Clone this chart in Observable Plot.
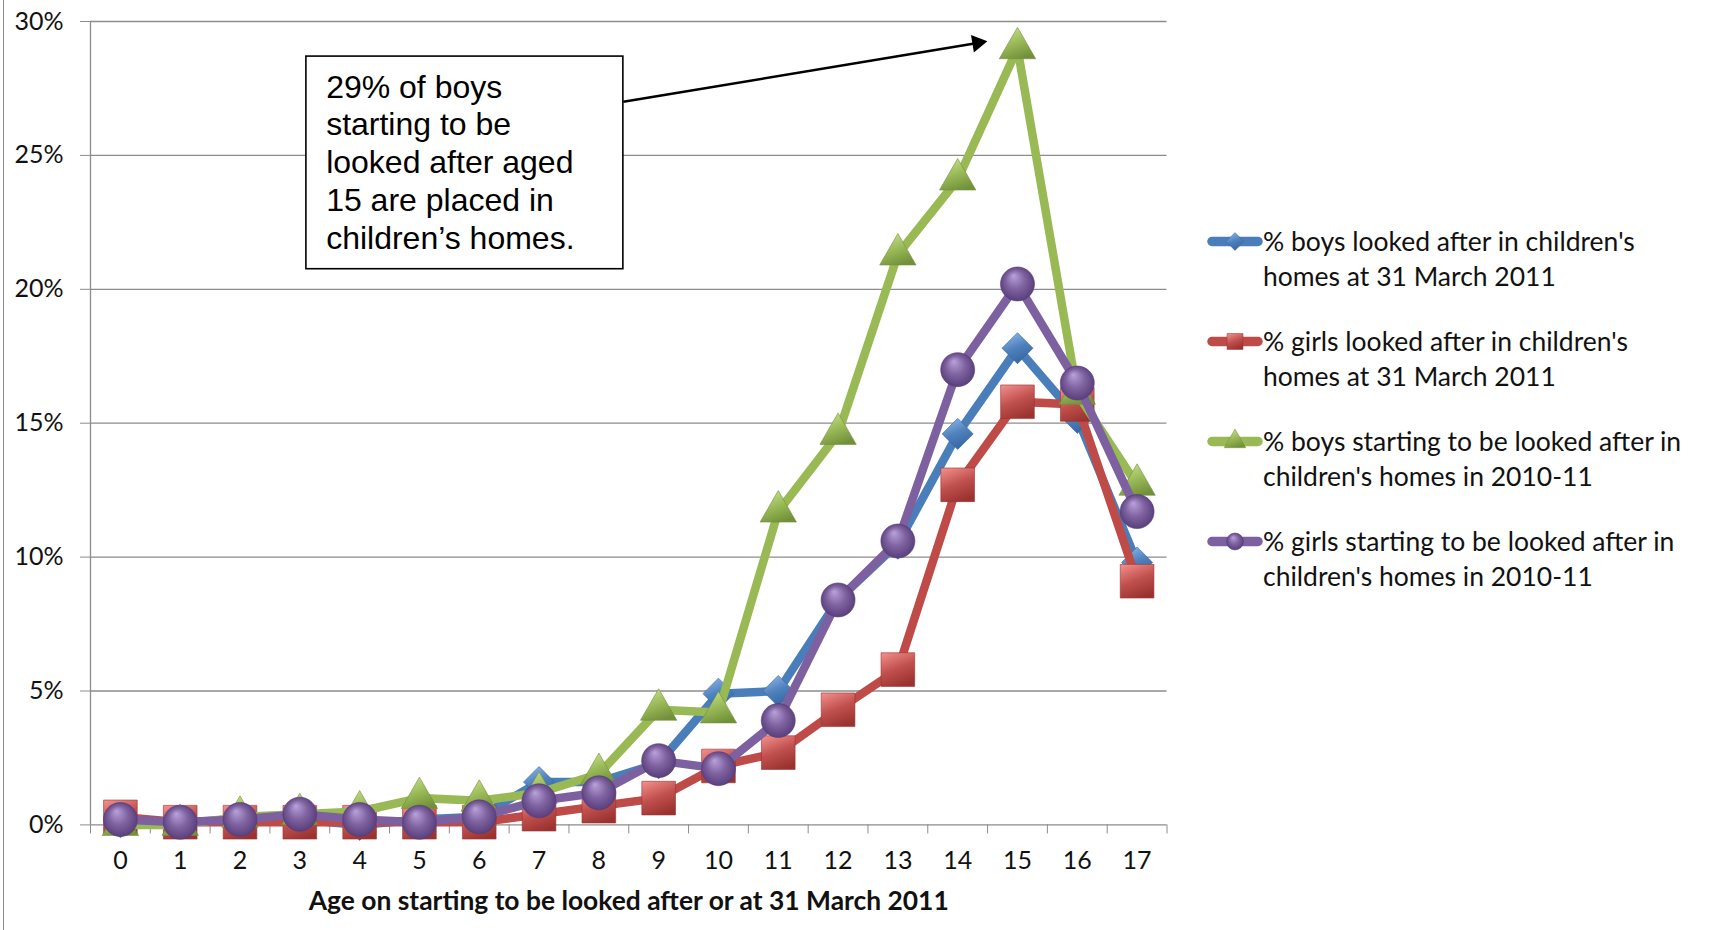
<!DOCTYPE html>
<html>
<head>
<meta charset="utf-8">
<script src="https://cdn.jsdelivr.net/npm/d3@7"></script>
<script src="https://cdn.jsdelivr.net/npm/@observablehq/plot@0.6"></script>
<style>
  html, body { margin: 0; padding: 0; background: #fff; }
  #wrap { position: relative; width: 1719px; height: 930px; overflow: hidden; font-family: Lato, "Noto Sans", sans-serif; }
  #frame { position: absolute; left: 3px; top: 0; height: 930px; border-left: 1.5px solid #8a8a8a; }
  #chart { position: absolute; left: 0; top: 0; }
  #legend { position: absolute; left: 1207px; top: 224px; }
  .item { display: flex; align-items: flex-start; height: 100px; }
  .item svg { flex: none; }
  .lab { font-size: 26.5px; line-height: 35px; color: #111; white-space: nowrap; }
</style>
</head>
<body>
<div id="wrap">
  <div id="frame"></div>
  <div id="chart"></div>
  <div id="legend"></div>
</div>
<script>
// ---- data ----
const ages = [0, 1, 2, 3, 4, 5, 6, 7, 8, 9, 10, 11, 12, 13, 14, 15, 16, 17];
const boysLookedAfter  = [0.1, 0.1, 0.2, 0.2, 0.0, 0.2, 0.3, 1.6, 1.6, 2.3, 4.9, 5.0, 8.4, 10.5, 14.6, 17.8, 15.2, 9.8];
const girlsLookedAfter = [0.3, 0.1, 0.1, 0.1, 0.1, 0.1, 0.1, 0.4, 0.7, 1.0, 2.2, 2.7, 4.3, 5.8, 12.7, 15.8, 15.7, 9.1];
const boysStarting     = [0.0, 0.0, 0.3, 0.4, 0.5, 1.0, 0.9, 1.2, 1.9, 4.3, 4.2, 11.7, 14.6, 21.3, 24.1, 29.0, 16.1, 12.7];
const girlsStarting    = [0.2, 0.1, 0.2, 0.4, 0.2, 0.1, 0.3, 0.9, 1.2, 2.4, 2.1, 3.9, 8.4, 10.6, 17.0, 20.2, 16.5, 11.7];
const seriesNames = [
  "% boys looked after in children's homes at 31 March 2011",
  "% girls looked after in children's homes at 31 March 2011",
  "% boys starting to be looked after in children's homes in 2010-11",
  "% girls starting to be looked after in children's homes in 2010-11"
];
const legendLines = [
  ["% boys looked after in children's", "homes at 31 March 2011"],
  ["% girls looked after in children's", "homes at 31 March 2011"],
  ["% boys starting to be looked after in", "children's homes in 2010-11"],
  ["% girls starting to be looked after in", "children's homes in 2010-11"]
];
const yTicks = [0, 5, 10, 15, 20, 25, 30];
const xTitle = "Age on starting to be looked after or at 31 March 2011";
const noteText = "29% of boys\nstarting to be\nlooked after aged\n15 are placed in\nchildren’s homes.";
// annotation anchor points in data units (age, %)
const noteBox = {x1: 3.11, x2: 8.41, y1: 20.75, y2: 28.69, tx: 3.44, ty: 24.79};
const noteArrow = {x1: 8.41, y1: 27.0, x2: 14.33, y2: 29.2};

// ---- styles ----
const lineColors = ["#4a7ebb", "#be4b48", "#98b954", "#7d60a0"];
const gradStops = [
  ["#8fb6ea", "#4f81bd", "#3465a0"],
  ["#ee8a87", "#c0504d", "#9a3330"],
  ["#c6e08e", "#9bbb59", "#72903a"],
  ["#b9a2da", "#8064a2", "#553a78"]
];
const symbols = ["diamond2", "square", "triangle", "circle"];
const radii = [14, 19, 13.5, 17];
const legendR = [8, 9, 8, 8.5];

const seriesValues = [boysLookedAfter, girlsLookedAfter, boysStarting, girlsStarting];
const rows = seriesValues.map((vals, s) => ages.map((a, i) => ({age: a, value: vals[i], series: seriesNames[s]})));
const boundaries = ages.map(a => a - 0.5).concat([ages[ages.length - 1] + 0.5]);
const xDomain = [boundaries[0], boundaries[boundaries.length - 1]];

const seriesMarks = rows.flatMap((data, s) => [
  Plot.line(data, {x: "age", y: "value", stroke: lineColors[s], strokeWidth: 8.5, strokeLinejoin: "round", strokeLinecap: "round"}),
  Plot.dot(data, {x: "age", y: "value", symbol: symbols[s], r: radii[s], fill: `url(#g${s})`, stroke: gradStops[s][2], strokeWidth: 0.6})
]);

const chart = Plot.plot({
  width: 1180,
  height: 930,
  marginLeft: 90,
  marginRight: 13.5,
  marginTop: 21,
  marginBottom: 105.6,
  style: {fontFamily: "Lato, 'Noto Sans', sans-serif", fontSize: "25px", color: "#000", background: "transparent"},
  x: {type: "linear", domain: xDomain, label: null},
  y: {domain: [0, 30], label: null},
  marks: [
    Plot.ruleY(yTicks, {x1: xDomain[0], x2: xDomain[1], stroke: "#8c8c8c", strokeWidth: 1.3}),
    Plot.ruleX([xDomain[0]], {y1: 0, y2: 30, stroke: "#8c8c8c", strokeWidth: 1.3}),
    Plot.axisY(yTicks, {tickSize: 10, tickPadding: 17, tickFormat: d => d + "%", stroke: "#8c8c8c", fill: "#111", fontSize: 25, label: null}),
    Plot.axisX(boundaries, {tickSize: 9, tickFormat: () => "", stroke: "#8c8c8c", label: null}),
    Plot.axisX(ages, {tickSize: 0, tickPadding: 26, fill: "#111", fontSize: 25, label: null}),
    Plot.text([xTitle], {frameAnchor: "bottom", dy: 85, fontWeight: "bold", fontSize: 26.4, fill: "#111"}),
    Plot.link([noteArrow], {x1: "x1", y1: "y1", x2: "x2", y2: "y2", stroke: "#000", strokeWidth: 2.5}),
    Plot.dot([noteArrow], {x: "x2", y: "y2", symbol: "triangle", r: 6.5, rotate: 80.6, fill: "#000"}),
    Plot.rect([noteBox], {x1: "x1", x2: "x2", y1: "y1", y2: "y2", fill: "#fff", stroke: "#000", strokeWidth: 1.6}),
    Plot.text([noteBox], {x: "tx", y: "ty", text: () => noteText, textAnchor: "start", lineAnchor: "middle", lineHeight: 1.18, fontSize: 32, fontFamily: "'Liberation Sans Narrow', 'Liberation Sans', sans-serif", fill: "#000"}),
    ...seriesMarks
  ]
});

function addDefs(svgEl, prefix) {
  const defs = d3.select(svgEl).insert("defs", ":first-child");
  gradStops.forEach((st, s) => {
    let g;
    if (symbols[s] === "circle") {
      g = defs.append("radialGradient").attr("id", prefix + s).attr("cx", 0.5).attr("cy", 0.5).attr("r", 0.55).attr("fx", 0.38).attr("fy", 0.25);
    } else {
      g = defs.append("linearGradient").attr("id", prefix + s).attr("x1", 0.2).attr("y1", 0).attr("x2", 0.6).attr("y2", 1);
    }
    g.append("stop").attr("offset", 0).attr("stop-color", st[0]);
    g.append("stop").attr("offset", 0.5).attr("stop-color", st[1]);
    g.append("stop").attr("offset", 1).attr("stop-color", st[2]);
  });
}
addDefs(chart, "g");
document.getElementById("chart").appendChild(chart);

// ---- legend ----
const symbolTypes = {circle: d3.symbolCircle, square: d3.symbolSquare, triangle: d3.symbolTriangle, diamond2: d3.symbolDiamond2};
const legend = d3.select("#legend");
seriesNames.forEach((name, s) => {
  const item = legend.append("div").attr("class", "item");
  const sw = item.append("svg").attr("width", 56).attr("height", 35);
  addDefs(sw.node(), "lg" + s + "_");
  sw.append("line").attr("x1", 5).attr("x2", 51).attr("y1", 17.5).attr("y2", 17.5)
    .attr("stroke", lineColors[s]).attr("stroke-width", 9.5).attr("stroke-linecap", "round");
  const sym = d3.symbol(symbolTypes[symbols[s]], Math.PI * legendR[s] * legendR[s]);
  sw.append("path").attr("d", sym()).attr("transform", "translate(28,17.5)")
    .attr("fill", `url(#lg${s}_${s})`).attr("stroke", gradStops[s][2]).attr("stroke-width", 0.5);
  const lab = item.append("div").attr("class", "lab");
  legendLines[s].forEach(t => lab.append("div").text(t));
});
</script>
</body>
</html>
